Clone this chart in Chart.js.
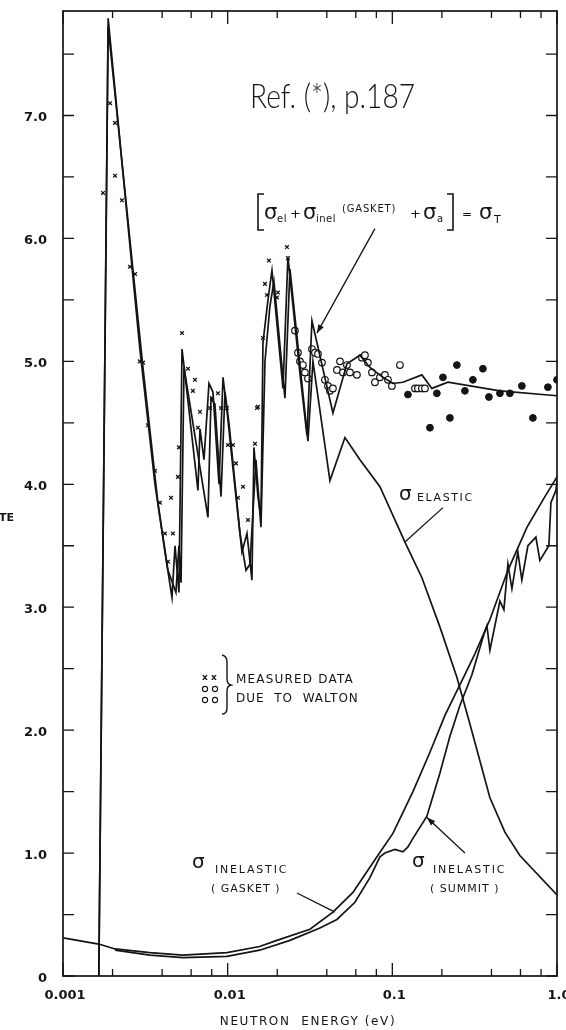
<!DOCTYPE html>
<html>
<head>
<meta charset="utf-8">
<script src="https://cdn.jsdelivr.net/npm/chart.js@4.4.1/dist/chart.umd.min.js"></script>
<style>
  html, body { margin: 0; padding: 0; background: #fff; }
  canvas { display: block; }
</style>
</head>
<body>
<canvas id="chart" width="566" height="1030"></canvas>
<script>
// neutron energy (eV) and cross section values

// total cross section (upper line of the pair)
const totalE = [0.00165, 0.00188, 0.00293, 0.00362, 0.00416, 0.00459, 0.00479, 0.00506, 0.00528, 0.00550,
    0.00660, 0.00679, 0.00718, 0.00770, 0.00814, 0.00886, 0.00937, 0.00990, 0.01123, 0.01221,
    0.01310, 0.01404, 0.01444, 0.01527, 0.01593, 0.01638, 0.01757, 0.01858, 0.02167, 0.02323,
    0.02748, 0.03030, 0.03250, 0.04358, 0.05301, 0.06358, 0.07311, 0.08770, 0.1008, 0.1160,
    0.1512, 0.1739, 0.2176, 0.4501, 1.0];
const totalSigma = [0, 7.79, 5.1, 4.0, 3.45, 3.08, 3.5, 3.12, 5.1, 4.9,
    3.95, 4.45, 4.2, 4.82, 4.75, 4.0, 4.87, 4.6, 3.9, 3.45,
    3.6, 3.22, 4.3, 3.9, 3.72, 5.15, 5.5, 5.74, 4.78, 5.85,
    4.9, 4.4, 5.33, 4.58, 4.98, 5.05, 4.95, 4.87, 4.82, 4.83,
    4.89, 4.78, 4.83, 4.76, 4.72];

// elastic cross section
const elasticE = [0.00165, 0.00188, 0.00306, 0.00377, 0.00434, 0.00485, 0.00506, 0.00521, 0.00543, 0.00574,
    0.00759, 0.00792, 0.00837, 0.00911, 0.00963, 0.01018, 0.01188, 0.01292, 0.01366, 0.01485,
    0.01593, 0.01685, 0.01806, 0.01910, 0.02228, 0.02389, 0.03073, 0.03295, 0.04179, 0.05155,
    0.06358, 0.08409, 0.1193, 0.1512, 0.1944, 0.2466, 0.2959, 0.3914, 0.4827, 0.5949, 1.0];
const elasticSigma = [0, 7.72, 4.95, 3.85, 3.3, 3.12, 3.5, 3.2, 4.95, 4.75,
    3.73, 4.7, 4.65, 3.9, 4.75, 4.5, 3.6, 3.3, 3.35, 4.2,
    3.65, 5.0, 5.45, 5.65, 4.7, 5.75, 4.35, 5.0, 4.03, 4.38,
    4.2, 3.98, 3.53, 3.24, 2.84, 2.43, 2.05, 1.45, 1.17, 0.98, 0.66];

// inelastic, GASKET
const gasketE = [0.001, 0.00165, 0.00207, 0.00337, 0.00535, 0.0099, 0.01563, 0.01992, 0.0316, 0.04358,
    0.05765, 0.08063, 0.1008, 0.1334, 0.1692, 0.2087, 0.2683, 0.3173, 0.3914, 0.5034,
    0.6566, 0.8443, 1.0];
const gasketSigma = [0.31, 0.26, 0.22, 0.19, 0.17, 0.19, 0.24, 0.29, 0.38, 0.52,
    0.68, 0.97, 1.16, 1.5, 1.82, 2.12, 2.42, 2.62, 2.9, 3.3,
    3.65, 3.9, 4.06];

// inelastic, SUMMIT
const summitE = [0.00207, 0.00337, 0.00535, 0.0099, 0.01563, 0.02389, 0.03634, 0.04609, 0.05928, 0.07311,
    0.08409, 0.09017, 0.1037, 0.1160, 0.1244, 0.1334, 0.1622, 0.1944, 0.2237, 0.2573,
    0.3043, 0.3599, 0.3753, 0.3914, 0.4501, 0.4759, 0.5034, 0.5324, 0.5784, 0.6117,
    0.6657, 0.7443, 0.7869, 0.8929, 0.9183, 0.9847, 1.0];
const summitSigma = [0.21, 0.17, 0.15, 0.16, 0.21, 0.29, 0.39, 0.46, 0.6, 0.8,
    0.97, 1.0, 1.03, 1.01, 1.05, 1.12, 1.3, 1.65, 1.95, 2.2,
    2.45, 2.78, 2.85, 2.65, 3.05, 2.98, 3.35, 3.15, 3.45, 3.22,
    3.5, 3.57, 3.38, 3.5, 3.85, 3.95, 4.03];

// measured points (x marks)
const crossE = [0.00175, 0.00193, 0.00207, 0.00207, 0.00228, 0.00255, 0.00274, 0.00293, 0.00306, 0.00328,
    0.00362, 0.00388, 0.00416, 0.00434, 0.00453, 0.00465, 0.00499, 0.00506, 0.00528, 0.00574,
    0.00615, 0.00633, 0.00660, 0.00679, 0.00781, 0.00803, 0.00873, 0.00911, 0.00990, 0.01004,
    0.01077, 0.01123, 0.01155, 0.01239, 0.01328, 0.01465, 0.01506, 0.01527, 0.01638, 0.01685,
    0.01732, 0.01781, 0.01992, 0.02020, 0.02291, 0.02323];
const crossSigma = [6.37, 7.1, 6.94, 6.51, 6.31, 5.77, 5.71, 5.0, 4.99, 4.48,
    4.11, 3.85, 3.6, 3.37, 3.89, 3.6, 4.06, 4.3, 5.23, 4.94,
    4.76, 4.85, 4.46, 4.59, 4.62, 4.7, 4.74, 4.62, 4.62, 4.32,
    4.32, 4.17, 3.89, 3.98, 3.71, 4.33, 4.62, 4.63, 5.19, 5.63,
    5.54, 5.82, 5.52, 5.56, 5.93, 5.84];

// Walton, open circles
const waltonE = [0.02562, 0.02672, 0.02748, 0.02865, 0.02946, 0.03073, 0.03250, 0.03389, 0.03534, 0.03737,
    0.03897, 0.04064, 0.04179, 0.04358, 0.04609, 0.04808, 0.05013, 0.05301, 0.05528, 0.06096,
    0.06537, 0.06817, 0.07110, 0.07518, 0.07842, 0.08409, 0.09017, 0.09403, 0.0994, 0.1112,
    0.1372, 0.1430, 0.1512, 0.1578];
const waltonSigma = [5.25, 5.07, 5.0, 4.97, 4.91, 4.86, 5.1, 5.07, 5.06, 4.99,
    4.85, 4.8, 4.76, 4.78, 4.93, 5.0, 4.91, 4.97, 4.91, 4.89,
    5.03, 5.05, 4.99, 4.91, 4.83, 4.87, 4.89, 4.85, 4.8, 4.97,
    4.78, 4.78, 4.78, 4.78];

// filled dots
const dotE = [0.1244, 0.1692, 0.1864, 0.2029, 0.2237, 0.2466, 0.2759, 0.3085, 0.3549, 0.3859,
    0.4501, 0.5176, 0.6117, 0.7139, 0.8806, 1.0];
const dotSigma = [4.73, 4.46, 4.74, 4.87, 4.54, 4.97, 4.76, 4.85, 4.94, 4.71,
    4.74, 4.74, 4.8, 4.54, 4.79, 4.85];

const xTicks = [0.001, 0.002, 0.004, 0.006, 0.008, 0.01, 0.02, 0.04, 0.06, 0.08,
    0.1, 0.2, 0.4, 0.6, 0.8, 1];
const xDecades = [0.001, 0.01, 0.1, 1];
const xTickLabels = ['0.001', '0.01', '0.1', '1.0'];
const yTicks = [0, 0.5, 1, 1.5, 2, 2.5, 3, 3.5, 4, 4.5, 5, 5.5, 6, 6.5, 7, 7.5];
const yLabelValues = [0, 1, 2, 3, 4, 5, 6, 7];
const yTickLabels = ['0', '1.0', '2.0', '3.0', '4.0', '5.0', '6.0', '7.0'];

const INK = '#141414';
const pts = (xs, ys) => xs.map((x, i) => ({ x: x, y: ys[i] }));

function lineSet(xs, ys) {
    return {
        data: pts(xs, ys),
        borderColor: INK,
        borderWidth: 1.7,
        pointRadius: 0,
        tension: 0,
        fill: false,
    };
}

function drawText(ctx, text, x, y, font, align, spacing) {
    ctx.font = font;
    ctx.textAlign = align || 'left';
    ctx.textBaseline = 'alphabetic';
    ctx.letterSpacing = (spacing || 0) + 'px';
    ctx.fillText(text, x, y);
    ctx.letterSpacing = '0px';
}

function arrowLine(ctx, x1, y1, x2, y2, head) {
    ctx.beginPath();
    ctx.moveTo(x1, y1);
    ctx.lineTo(x2, y2);
    ctx.stroke();
    if (!head) return;
    const a = Math.atan2(y2 - y1, x2 - x1);
    ctx.beginPath();
    ctx.moveTo(x2, y2);
    ctx.lineTo(x2 - head * Math.cos(a - 0.35), y2 - head * Math.sin(a - 0.35));
    ctx.lineTo(x2 - head * Math.cos(a + 0.35), y2 - head * Math.sin(a + 0.35));
    ctx.closePath();
    ctx.fill();
}

const decorations = {
    id: 'decorations',
    afterDraw(chart) {
        const ctx = chart.ctx;
        const { left, right, top, bottom } = chart.chartArea;
        const xs = chart.scales.x;
        const ys = chart.scales.y;
        const px = v => xs.getPixelForValue(v);
        const py = v => ys.getPixelForValue(v);

        ctx.save();
        ctx.strokeStyle = INK;
        ctx.fillStyle = INK;

        // frame
        ctx.lineWidth = 1.7;
        ctx.strokeRect(left, top, right - left, bottom - top);

        // inward ticks
        ctx.lineWidth = 1.3;
        xTicks.forEach(v => {
            const x = px(v);
            const len = xDecades.includes(v) ? 13 : 7;
            ctx.beginPath();
            ctx.moveTo(x, bottom); ctx.lineTo(x, bottom - len);
            ctx.moveTo(x, top); ctx.lineTo(x, top + len);
            ctx.stroke();
        });
        yTicks.forEach(v => {
            const y = py(v);
            ctx.beginPath();
            ctx.moveTo(left, y); ctx.lineTo(left + 11, y);
            ctx.moveTo(right, y); ctx.lineTo(right - 11, y);
            ctx.stroke();
        });

        // tick labels
        xDecades.forEach((v, i) => {
            drawText(ctx, xTickLabels[i], px(v) + 2, bottom + 23, 'bold 13px "DejaVu Sans"', 'center');
        });
        yLabelValues.forEach((v, i) => {
            drawText(ctx, yTickLabels[i], 47, py(v) + 6, 'bold 13px "DejaVu Sans"', 'right');
        });
        drawText(ctx, 'NEUTRON  ENERGY (eV)', 308, 1025, '12px "DejaVu Sans"', 'center', 1.6);
        drawText(ctx, 'TE', -1, 521, 'bold 11px "DejaVu Sans"', 'left');

        // handwritten reference note
        ctx.save();
        ctx.font = '300 33px Lato, "DejaVu Sans"';
        const refText = 'Ref. (*), p.187';
        const w = ctx.measureText(refText).width;
        ctx.translate(250, 108);
        ctx.scale(165 / w, 1);
        ctx.textAlign = 'left';
        ctx.fillText(refText, 0, 0);
        ctx.restore();

        // [σel + σinel (GASKET) + σa] = σT
        ctx.lineWidth = 1.6;
        ctx.beginPath();
        ctx.moveTo(264, 194); ctx.lineTo(258, 194); ctx.lineTo(258, 230); ctx.lineTo(264, 230);
        ctx.moveTo(447, 194); ctx.lineTo(453, 194); ctx.lineTo(453, 230); ctx.lineTo(447, 230);
        ctx.stroke();
        const sig = '21px "DejaVu Sans"';
        const sub = '10px "DejaVu Sans"';
        drawText(ctx, 'σ', 264, 219, sig);
        drawText(ctx, 'el', 277, 222, sub, 'left', 0.5);
        drawText(ctx, '+', 290, 218, '13px "DejaVu Sans"');
        drawText(ctx, 'σ', 303, 219, sig);
        drawText(ctx, 'inel', 316, 222, sub, 'left', 0.5);
        drawText(ctx, '(GASKET)', 342, 212, sub, 'left', 0.8);
        drawText(ctx, '+', 410, 218, '13px "DejaVu Sans"');
        drawText(ctx, 'σ', 423, 219, sig);
        drawText(ctx, 'a', 437, 222, sub);
        drawText(ctx, '=', 462, 218, '12px "DejaVu Sans"');
        drawText(ctx, 'σ', 479, 219, sig);
        drawText(ctx, 'T', 494, 223, '11px "DejaVu Sans"');

        // leader lines, anchored in data coordinates
        ctx.lineWidth = 1.3;
        arrowLine(ctx, px(0.0784), py(6.08), px(0.03485), py(5.23), 9);
        arrowLine(ctx, px(0.2029), py(3.81), px(0.1193), py(3.53), 0);
        arrowLine(ctx, px(0.02635), py(0.675), px(0.04482), py(0.52), 0);
        arrowLine(ctx, px(0.2759), py(1.0), px(0.1622), py(1.29), 9);

        // curve labels
        drawText(ctx, 'σ', 399, 500, '20px "DejaVu Sans"');
        drawText(ctx, 'ELASTIC', 417, 501, '11px "DejaVu Sans"', 'left', 1.6);
        drawText(ctx, 'σ', 192, 868, '20px "DejaVu Sans"');
        drawText(ctx, 'INELASTIC', 215, 873, '11px "DejaVu Sans"', 'left', 1.8);
        drawText(ctx, '( GASKET )', 211, 892, '11px "DejaVu Sans"', 'left', 1.0);
        drawText(ctx, 'σ', 412, 867, '20px "DejaVu Sans"');
        drawText(ctx, 'INELASTIC', 433, 873, '11px "DejaVu Sans"', 'left', 1.8);
        drawText(ctx, '( SUMMIT )', 430, 892, '11px "DejaVu Sans"', 'left', 1.0);

        // legend
        drawText(ctx, 'x x', 202, 680, 'bold 9px "DejaVu Sans"');
        ctx.lineWidth = 1.1;
        [[205, 689], [215, 689], [205, 700], [215, 700]].forEach(c => {
            ctx.beginPath();
            ctx.arc(c[0], c[1], 2.6, 0, Math.PI * 2);
            ctx.stroke();
        });
        ctx.lineWidth = 1.4;
        ctx.beginPath();
        ctx.moveTo(222, 655);
        ctx.quadraticCurveTo(227, 656, 227, 662);
        ctx.lineTo(227, 679);
        ctx.quadraticCurveTo(227, 684, 231, 685);
        ctx.quadraticCurveTo(227, 686, 227, 691);
        ctx.lineTo(227, 708);
        ctx.quadraticCurveTo(227, 714, 222, 714);
        ctx.stroke();
        drawText(ctx, 'MEASURED DATA', 236, 683, '12px "DejaVu Sans"', 'left', 1.2);
        drawText(ctx, 'DUE  TO  WALTON', 236, 702, '12px "DejaVu Sans"', 'left', 1.0);

        ctx.restore();
    }
};

new Chart(document.getElementById('chart'), {
    type: 'line',
    data: {
        datasets: [
            lineSet(totalE, totalSigma),
            lineSet(elasticE, elasticSigma),
            lineSet(gasketE, gasketSigma),
            lineSet(summitE, summitSigma),
            {
                data: pts(crossE, crossSigma),
                showLine: false,
                pointStyle: 'crossRot',
                pointRadius: 2.6,
                borderColor: INK,
                pointBorderWidth: 1.3,
            },
            {
                data: pts(waltonE, waltonSigma),
                showLine: false,
                pointStyle: 'circle',
                pointRadius: 3.3,
                backgroundColor: '#fff',
                borderColor: INK,
                pointBorderWidth: 1.2,
            },
            {
                data: pts(dotE, dotSigma),
                showLine: false,
                pointStyle: 'circle',
                pointRadius: 3.4,
                backgroundColor: INK,
                borderColor: INK,
                pointBorderWidth: 1,
            },
        ],
    },
    options: {
        responsive: false,
        animation: false,
        devicePixelRatio: 1,
        layout: {
            padding: { left: 63, right: 9, top: 11, bottom: 54 },
        },
        plugins: {
            legend: { display: false },
            tooltip: { enabled: false },
        },
        scales: {
            x: { type: 'logarithmic', min: 0.001, max: 1, display: false },
            y: { type: 'linear', min: 0, max: 7.85, display: false },
        },
    },
    plugins: [decorations],
});
</script>
</body>
</html>
